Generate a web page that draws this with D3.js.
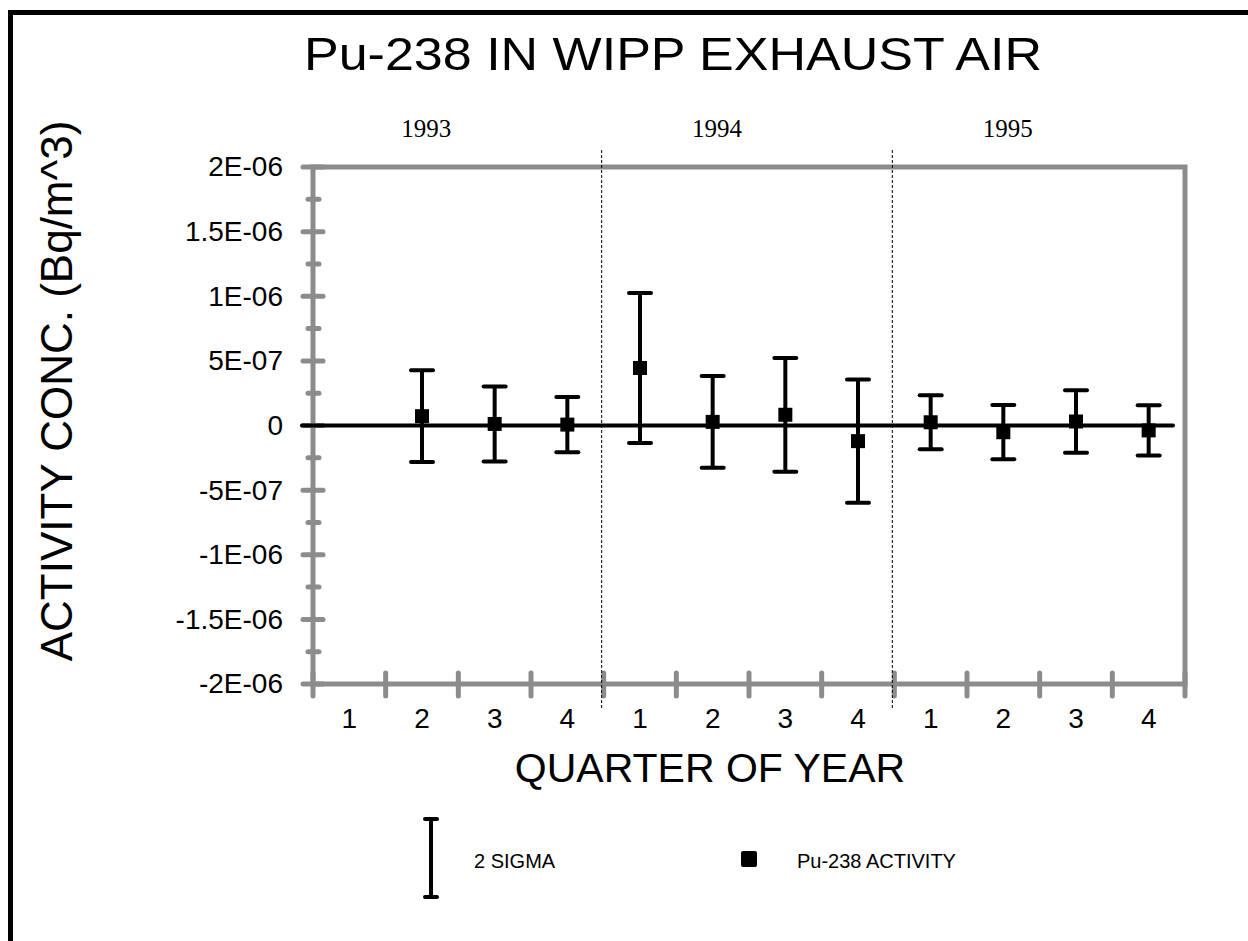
<!DOCTYPE html>
<html>
<head>
<meta charset="utf-8">
<script src="https://cdn.jsdelivr.net/npm/d3@7"></script>
<style>
  body { margin: 0; background: #fff; }
  svg { display: block; }
</style>
</head>
<body>
<div id="chart"></div>
<script>
// quarters for 1993-1995 (Bq/m^3)
const years = ["1993", "1994", "1995"];
const quarters = ["1", "2", "3", "4", "1", "2", "3", "4", "1", "2", "3", "4"];
const activity = [null, 7.2e-8, 1.2e-8, 7e-9, 4.45e-7, 2.8e-8, 8.3e-8, -1.21e-7, 2.5e-8, -5.2e-8, 3.1e-8, -3.8e-8];
const sigma2 = [null, 3.55e-7, 2.9e-7, 2.13e-7, 5.8e-7, 3.55e-7, 4.4e-7, 4.76e-7, 2.09e-7, 2.1e-7, 2.41e-7, 1.94e-7];
const yTicks = [-2e-6, -1.5e-6, -1e-6, -5e-7, 0, 5e-7, 1e-6, 1.5e-6, 2e-6];
const yTickLabels = ["-2E-06", "-1.5E-06", "-1E-06", "-5E-07", "0", "5E-07", "1E-06", "1.5E-06", "2E-06"];
const yMinor = [-1.75e-6, -1.25e-6, -7.5e-7, -2.5e-7, 2.5e-7, 7.5e-7, 1.25e-6, 1.75e-6];

const W = 1248, H = 941;
const pLeft = 313, pRight = 1185, pTop = 167, pBottom = 684;
const grey = "#8c8c8c";

const svg = d3.select("#chart").append("svg")
    .attr("width", W).attr("height", H)
    .style("font-family", "Arial, 'Liberation Sans', sans-serif");

// outer frame (runs off the right and bottom edges)
svg.append("rect")
    .attr("x", 10.5).attr("y", 12.5)
    .attr("width", W + 20).attr("height", H + 20)
    .attr("fill", "none").attr("stroke", "#000").attr("stroke-width", 5);

const x = d3.scaleBand().domain(d3.range(quarters.length)).range([pLeft, pRight]);
const y = d3.scaleLinear().domain([-2e-6, 2e-6]).range([pBottom, pTop]);

// title
svg.append("text")
    .attr("x", 673).attr("y", 70)
    .attr("text-anchor", "middle")
    .attr("font-size", 47)
    .attr("textLength", 738).attr("lengthAdjust", "spacingAndGlyphs")
    .text("Pu-238 IN WIPP EXHAUST AIR");

// year labels
const yearW = x.step() * 4;
svg.selectAll(".year")
    .data(years)
    .enter().append("text")
    .attr("class", "year")
    .attr("x", (d, i) => pLeft + i * yearW + yearW * 0.39)
    .attr("y", 137)
    .attr("text-anchor", "middle")
    .attr("font-family", "'Liberation Serif', 'Times New Roman', serif")
    .attr("font-size", 25)
    .text(d => d);

// plot frame
svg.append("rect")
    .attr("x", pLeft).attr("y", pTop)
    .attr("width", pRight - pLeft).attr("height", pBottom - pTop)
    .attr("fill", "none").attr("stroke", grey).attr("stroke-width", 5);

// y axis: labels via d3 axis, crossing ticks drawn from the scale
const yAxis = svg.append("g")
    .attr("transform", `translate(${pLeft},0)`)
    .call(d3.axisLeft(y).tickValues(yTicks).tickSize(0).tickPadding(30)
        .tickFormat((d, i) => yTickLabels[i]));
yAxis.select(".domain").remove();
yAxis.selectAll("text").attr("font-size", 28).attr("fill", "#000")
    .style("font-family", "Arial, 'Liberation Sans', sans-serif");

svg.selectAll(".ymajor")
    .data(yTicks)
    .enter().append("line")
    .attr("x1", pLeft - 10).attr("x2", pLeft + 10)
    .attr("y1", d => y(d)).attr("y2", d => y(d))
    .attr("stroke", grey).attr("stroke-width", 5).attr("stroke-linecap", "round");

svg.selectAll(".yminor")
    .data(yMinor)
    .enter().append("line")
    .attr("x1", pLeft - 5).attr("x2", pLeft + 6)
    .attr("y1", d => y(d)).attr("y2", d => y(d))
    .attr("stroke", grey).attr("stroke-width", 5).attr("stroke-linecap", "round");

// x axis ticks at category boundaries
const xBounds = d3.range(quarters.length + 1).map(i => pLeft + i * x.step());
svg.selectAll(".xtick")
    .data(xBounds)
    .enter().append("line")
    .attr("x1", d => d).attr("x2", d => d)
    .attr("y1", pBottom - 11).attr("y2", pBottom + 12)
    .attr("stroke", grey).attr("stroke-width", 5).attr("stroke-linecap", "round");

svg.selectAll(".xlabel")
    .data(quarters)
    .enter().append("text")
    .attr("x", (d, i) => x(i) + x.bandwidth() / 2)
    .attr("y", 728)
    .attr("text-anchor", "middle")
    .attr("font-size", 28)
    .text(d => d);

// year separators
svg.selectAll(".sep")
    .data([4, 8])
    .enter().append("line")
    .attr("x1", d => x(d) - 2).attr("x2", d => x(d) - 2)
    .attr("y1", 150).attr("y2", 710)
    .attr("stroke", "#000").attr("stroke-width", 1)
    .attr("stroke-dasharray", "3,2");

// zero line
svg.append("line")
    .attr("x1", pLeft - 11).attr("x2", pRight - 12)
    .attr("y1", y(0)).attr("y2", y(0))
    .attr("stroke", "#000").attr("stroke-width", 4).attr("stroke-linecap", "round");

// axis titles
svg.append("text")
    .attr("x", 710).attr("y", 782)
    .attr("text-anchor", "middle")
    .attr("font-size", 41)
    .text("QUARTER OF YEAR");

svg.append("text")
    .attr("transform", "translate(72,391) rotate(-90)")
    .attr("text-anchor", "middle")
    .attr("font-size", 44)
    .text("ACTIVITY CONC. (Bq/m^3)");

// error bars + markers
const pts = activity.map((v, i) => ({ i, v, s: sigma2[i] })).filter(d => d.v !== null);
const cx = d => x(d.i) + x.bandwidth() / 2;

const bars = svg.append("g").attr("stroke", "#000").attr("stroke-width", 4).attr("stroke-linecap", "round");
bars.selectAll(".stem")
    .data(pts)
    .enter().append("line")
    .attr("x1", cx).attr("x2", cx)
    .attr("y1", d => y(d.v + d.s)).attr("y2", d => y(d.v - d.s))
    .attr("stroke-linecap", "butt");
bars.selectAll(".capTop")
    .data(pts)
    .enter().append("line")
    .attr("x1", d => cx(d) - 11).attr("x2", d => cx(d) + 11)
    .attr("y1", d => y(d.v + d.s)).attr("y2", d => y(d.v + d.s));
bars.selectAll(".capBot")
    .data(pts)
    .enter().append("line")
    .attr("x1", d => cx(d) - 11).attr("x2", d => cx(d) + 11)
    .attr("y1", d => y(d.v - d.s)).attr("y2", d => y(d.v - d.s));

svg.selectAll(".dot")
    .data(pts)
    .enter().append("rect")
    .attr("class", "dot")
    .attr("x", d => cx(d) - 7).attr("y", d => y(d.v) - 7)
    .attr("width", 14).attr("height", 14)
    .attr("fill", "#000");

// legend
const lg = svg.append("g");
lg.append("line").attr("x1", 431).attr("x2", 431).attr("y1", 819).attr("y2", 897)
    .attr("stroke", "#000").attr("stroke-width", 4);
lg.append("line").attr("x1", 425).attr("x2", 437).attr("y1", 819).attr("y2", 819)
    .attr("stroke", "#000").attr("stroke-width", 4).attr("stroke-linecap", "round");
lg.append("line").attr("x1", 425).attr("x2", 437).attr("y1", 897).attr("y2", 897)
    .attr("stroke", "#000").attr("stroke-width", 4).attr("stroke-linecap", "round");
lg.append("text").attr("x", 474).attr("y", 868).attr("font-size", 20).text("2 SIGMA");
lg.append("rect").attr("x", 741).attr("y", 851).attr("width", 16).attr("height", 16)
    .attr("rx", 2).attr("fill", "#000");
lg.append("text").attr("x", 797).attr("y", 868).attr("font-size", 20).text("Pu-238 ACTIVITY");
</script>
</body>
</html>
